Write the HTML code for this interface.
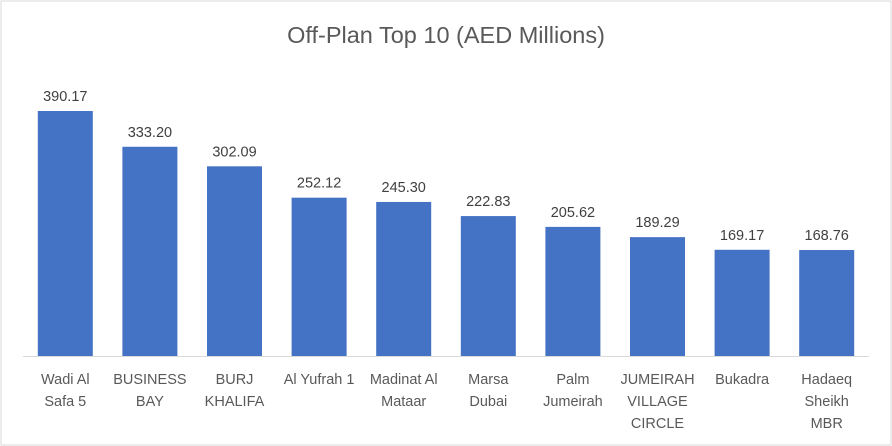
<!DOCTYPE html>
<html><head><meta charset="utf-8"><style>
body{margin:0;background:#fff;}
svg{display:block;font-family:"Liberation Sans",sans-serif;}
</style></head><body>
<svg id="c" width="892" height="446">
<rect x="1" y="1" width="890" height="444" fill="#fff" stroke="#d9d9d9" stroke-width="1"/>
<text x="446" y="43" text-anchor="middle" font-size="23.5" fill="#595959">Off-Plan Top 10 (AED Millions)</text>
</svg>
<script>
const categories=[["Wadi Al","Safa 5"],["BUSINESS","BAY"],["BURJ","KHALIFA"],["Al Yufrah 1"],["Madinat Al","Mataar"],["Marsa","Dubai"],["Palm","Jumeirah"],["JUMEIRAH","VILLAGE","CIRCLE"],["Bukadra"],["Hadaeq","Sheikh","MBR"]];
const values=[390.17,333.20,302.09,252.12,245.30,222.83,205.62,189.29,169.17,168.76];
const svg=document.getElementById('c');
const NS='http://www.w3.org/2000/svg';
const left=23,right=869,base=356,scale=245/390.17;
const step=(right-left)/values.length,bw=55;
const x=i=>left+step*(i+0.5);
const y=v=>base-v*scale;
function mk(t,a){const e=document.createElementNS(NS,t);for(const k in a)e.setAttribute(k,a[k]);svg.appendChild(e);return e;}
values.forEach((v,i)=>{
 const r=mk('rect',{x:x(i)-bw/2,y:y(v),width:bw,height:base-y(v),fill:'#4472c4'});
 
 
 const t=mk('text',{x:x(i),y:y(v)-10,'text-anchor':'middle','font-size':14.5,fill:'#404040'});
 t.textContent=v.toFixed(2);
 
 
 categories[i].forEach((line,j)=>{
  const l=mk('text',{x:x(i),y:384+j*22,'text-anchor':'middle','font-size':14.5,fill:'#595959'});
  l.textContent=line;
  
  
 });
});
const ax=mk('line',{x1:left,y1:base+0.5,x2:right,y2:base+0.5,stroke:'#d9d9d9','stroke-width':1});


</script>
</body></html>
